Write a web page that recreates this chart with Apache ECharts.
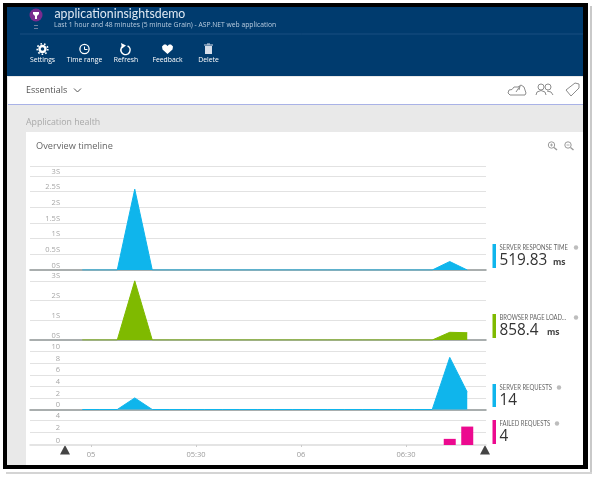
<!DOCTYPE html>
<html><head><meta charset="utf-8">
<style>html,body{margin:0;padding:0;background:#fff}#c{width:596px;height:478px}</style>
<script src="https://cdn.jsdelivr.net/npm/echarts@6/dist/echarts.min.js"></script>
</head><body><div id="c"></div>
<script>
// minutes after 05:00, one sample per 5 minute bin
const minutes = [-2.5,2.5,7.5,12.5,17.5,22.5,27.5,32.5,37.5,42.5,47.5,52.5,57.5,62.5,67.5,72.5,77.5,82.5,87.5,92.5,97.5,102.5,107.5];
const responseSeconds = [0,0,0,2.58,0,0,0,0,0,0,0,0,0,0,0,0,0,0,0,0,0,0.27,0];
const pageLoadSeconds = [0,0,0,3.0,0,0,0,0,0,0,0,0,0,0,0,0,0,0,0,0,0,0.39,0.37];
const serverRequests  = [0,0,0,2,0,0,0,0,0,0,0,0,0,0,0,0,0,0,0,0,0,9,3];
const failedRequests  = [[102.5,1],[107.5,3]];
const timeTickValues = [0,30,60,90];
const timeTickLabels = ['05','05:30','06','06:30'];
const metricNames = ['SERVER RESPONSE TIME','BROWSER PAGE LOAD...','SERVER REQUESTS','FAILED REQUESTS'];
const metricValues = ['519.83','858.4','14','4'];
const metricUnits = ['ms','ms','',''];
const toolbarLabels = ['Settings','Time range','Refresh','Feedback','Delete'];

const BLUE='#0fb5ec', GREEN='#7fba00', PINK='#ec0a8f', NAVY='#003b6e';
const FONT='"Open Sans"', LATO='Lato';
const zip = a => minutes.map((m,i)=>[m,a[i]]);
const xMin=-17.43, xMax=112.86;

const grids=[{top:166,bottom:270},{top:270,bottom:340},{top:340,bottom:409.5},{top:410,bottom:445}]
  .map(g=>({left:30,width:456,top:g.top,height:g.bottom-g.top}));
const yCfg=[{max:3.32,interval:.5,suffix:'S',topLine:true},{max:3.55,interval:1,suffix:'S'},{max:12,interval:2,suffix:''},{max:5.7,interval:2,suffix:''}];

const xAxes=grids.map((g,i)=>({
  type:'value',gridIndex:i,min:xMin,max:xMax,splitLine:{show:false},
  axisLine:{show:true,onZero:false,lineStyle:{color:i<3?'#8d9494':'#dcdcdc',width:1.5}},
  axisTick:i==3?{show:true,customValues:timeTickValues,length:2,lineStyle:{color:'#ccc'}}:{show:false},
  axisLabel:i==3?{show:true,customValues:timeTickValues,margin:6,fontSize:7.5,color:'#9a9a9a',fontFamily:FONT,
     formatter:v=>timeTickLabels[timeTickValues.indexOf(v)]}:{show:false}
}));
const yAxes=yCfg.map((c,i)=>({
  type:'value',gridIndex:i,min:0,max:c.max,interval:c.interval,
  axisLine:{show:false},axisTick:{show:false},
  splitLine:{show:true,showMinLine:false,showMaxLine:!!c.topLine,lineStyle:{color:'#e2e2e2',width:1.2}},
  axisLabel:{inside:true,margin:30,align:'right',verticalAlign:'bottom',showMaxLabel:false,
     fontSize:7.5,color:'#a6a6a6',fontFamily:FONT,lineHeight:9,formatter:v=>v+c.suffix}
}));
const area=(i,d,col)=>({type:'line',xAxisIndex:i,yAxisIndex:i,data:zip(d),symbol:'none',smooth:false,
  lineStyle:{color:col,width:1},areaStyle:{color:col,opacity:1},silent:true,animation:false});

// chrome
const T=(text,x,y,fill,size,extra)=>{
  extra=extra||{};
  const el={type:'text',z:-5,style:{text,x,y,fill,font:(extra.weight||'normal')+' '+size+'px '+(extra.font||FONT),textVerticalAlign:'middle',textAlign:extra.align||'left'}};
  if(extra.sx){el.scaleX=extra.sx;el.originX=x;el.originY=y;}
  return el;
};
const R=(x,y,w,h,fill,z)=>({type:'rect',z:z||-10,shape:{x,y,width:w,height:h},style:{fill}});
const G=(points,style)=>({type:'polygon',z:-5,shape:{points},style});
const L=(x1,y1,x2,y2,stroke,lw)=>({type:'line',z:-5,shape:{x1,y1,x2,y2},style:{stroke,lineWidth:lw||1}});
const C=(cx,cy,r,style)=>({type:'circle',z:-5,shape:{cx,cy,r},style});
const ICON_LINE={stroke:'#8c8c8c',fill:'none',lineWidth:1};

const chrome=[
  R(590,6,2,468,'#c9c9c9',-12),R(6,472,586,2,'#d4d4d4',-12),
  R(3,3,585,466,'#000',-11),
  R(7,7,576,458,'#e9e9e9'),
  R(7,7,576,69,NAVY),
  L(20,34,583,34,'#184f80',1),
  R(8,77,575,27,'#fff'),
  R(8,104,575,1,'#a9b2e6'),
  R(26,132,557,333,'#fff'),
  // logo
  C(36,15,6.5,{fill:'#7a2b8f'}),
  G([[33,12],[39,12],[39,14],[37,16],[37,19],[35,19],[35,16],[33,14]],{fill:'#fff'}),
  R(34,25,4,1,'#6e7fa0',-5),R(34,28,4,1,'#6e7fa0',-5),
  T('applicationinsightsdemo',54.5,13,'#dfe9f3',14,{sx:.88,font:LATO}),
  T('Last 1 hour and 48 minutes (5 minute Grain) - ASP.NET web application',54,25.5,'#b9cde0',6.75),
  // toolbar icons
  {type:'ring',z:-5,shape:{cx:42.5,cy:49,r:4.2,r0:1.8},style:{fill:'#fff'}},
  C(42.5,49,5.3,{fill:'none',stroke:'#fff',lineWidth:1.6,lineDash:[1.6,2.1]}),
  C(84.5,49,4.6,{fill:'none',stroke:'#fff',lineWidth:1.3}),
  L(84.5,46.5,84.5,49.5,'#fff',1),L(84.5,49.5,87.5,49.5,'#fff',1),
  {type:'arc',z:-5,shape:{cx:125.5,cy:50,r:4.6,startAngle:-1.1,endAngle:3.9},style:{stroke:'#fff',fill:'none',lineWidth:1.5}},
  {type:'polygon',z:-5,shape:{points:[[121,43],[126,45.5],[122,48.5]]},style:{fill:'#fff'}},
  G([[167.5,54],[162.5,49.5],[162,46.5],[164,44.5],[166,44.5],[167.5,46],[169,44.5],[171,44.5],[173,46.5],[172.5,49.5]],{fill:'#fff'}),
  R(205,46,7,8,'#d6deea',-5),R(204,44.5,9,1,'#d6deea',-5),R(207,43.5,3,1,'#d6deea',-5),
  T(toolbarLabels[0],42.5,60,'#fff',6.8,{align:'center'}),
  T(toolbarLabels[1],84.5,60,'#fff',6.8,{align:'center'}),
  T(toolbarLabels[2],126,60,'#fff',6.8,{align:'center'}),
  T(toolbarLabels[3],167.5,60,'#fff',6.8,{align:'center'}),
  T(toolbarLabels[4],208.5,60,'#fff',6.8,{align:'center'}),
  // essentials row
  T('Essentials',26,90.5,'#555',9),
  {type:'polyline',z:-5,shape:{points:[[74,88.5],[77.5,92],[81,88.5]]},style:{stroke:'#555',fill:'none',lineWidth:1}},
  G([[510,95],[508,93],[509,90],[512,89.5],[514,87],[518,87],[521,85],[524,87],[525,90],[526,93],[525,95]],ICON_LINE),
  L(516,92,520,86,'#8c8c8c',1),L(520,86,519,90,'#8c8c8c',1),
  C(541,87,3,ICON_LINE),C(548,87,3,ICON_LINE),
  {type:'polyline',z:-5,shape:{points:[[536,95],[537,92],[541,90.5],[545,92],[546,95]]},style:ICON_LINE},
  {type:'polyline',z:-5,shape:{points:[[547,91],[551,92],[553,95]]},style:ICON_LINE},
  G([[566,90],[575,83],[579,84],[579,88],[571,96]],ICON_LINE),
  T('Application health',26,122,'#a9a9a9',8.8),
  T('Overview timeline',36,146,'#666',9.2),
  // zoom icons
  C(551.5,145,3.2,{fill:'none',stroke:'#9a9a9a',lineWidth:1}),L(554,147.5,557,150,'#9a9a9a',1.4),L(550,145,553,145,'#9a9a9a',.8),L(551.5,143.5,551.5,146.5,'#9a9a9a',.8),
  C(568,145,3.2,{fill:'none',stroke:'#9a9a9a',lineWidth:1}),L(570.5,147.5,573.5,150,'#9a9a9a',1.4),L(566.5,145,569.5,145,'#9a9a9a',.8),
  // range handles
  G([[65,445],[60,454.5],[70,454.5]],{fill:'#444'}),
  G([[485,445],[480,454.5],[490,454.5]],{fill:'#444'}),
];
// metric tiles
const tiles=[{y:244,h:24,c:BLUE,info:576},{y:314,h:24,c:GREEN,info:576},{y:384,h:23,c:BLUE,info:559},{y:420,h:24,c:PINK,info:557}];
tiles.forEach((t,i)=>{
  chrome.push(R(492.5,t.y,3.5,t.h,t.c,-5));
  chrome.push(T(metricNames[i],499.5,t.y+4,'#666',6.9,{font:LATO,sx:.86}));
  chrome.push(C(t.info,t.y+3.5,2.2,{fill:'#bdbdbd'}));
  chrome.push(T(metricValues[i],499.5,t.y+16.5,'#333',17,{sx:.9}));
  if(metricUnits[i]) chrome.push(T(metricUnits[i],i==0?553:547,t.y+18.5,'#444',8.5,{weight:'bold'}));
});

const chart=echarts.init(document.getElementById('c'),null,{renderer:'canvas'});
chart.setOption({
  animation:false,backgroundColor:'#fff',
  graphic:{elements:chrome},
  grid:grids,xAxis:xAxes,yAxis:yAxes,
  series:[
    area(0,responseSeconds,BLUE),
    area(1,pageLoadSeconds,GREEN),
    area(2,serverRequests,BLUE),
    {type:'bar',xAxisIndex:3,yAxisIndex:3,data:failedRequests,barWidth:12,itemStyle:{color:PINK},silent:true}
  ]
});
</script></body></html>
